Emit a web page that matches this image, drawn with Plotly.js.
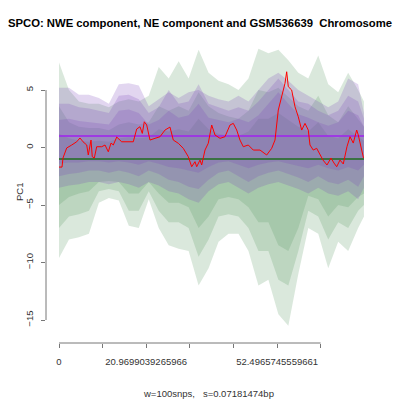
<!DOCTYPE html>
<html>
<head>
<meta charset="utf-8">
<script src="https://cdn.plot.ly/plotly-3.0.1.min.js"></script>
<style>html,body{margin:0;padding:0;background:#fff;}#chart{width:400px;height:399px;}</style>
</head>
<body>
<div id="chart"></div>
<script>
// ---- data ----
const titleText = "SPCO: NWE component, NE component and GSM536639  Chromosome";
const xAxisTitle = "w=100snps,   s=0.07181474bp";
const yAxisTitle = "PC1";

const xTickVals = [0, 10.49, 20.97, 31.48, 41.98, 52.50, 62.97];
const xTickText = ["0", "", "20.9699039265966", "", "", "52.4965745559661", ""];
const yTickVals = [-15, -10, -5, 0, 5];

// band sample positions
const bandX = [0, 2.4, 4.8, 7.2, 9.6, 12.0, 14.4, 16.8, 19.2, 21.6, 24.0, 26.4, 28.8, 31.2, 33.6, 36.0,
               38.4, 40.8, 43.2, 45.6, 48.0, 50.4, 52.8, 55.2, 57.6, 60.0, 62.4, 64.8, 67.2, 69.6, 72.0, 73.4];

// green component bands (outer / mid / inner)
const greenOuterHi = [7.4, 5.0, 4.0, 3.8, 3.8, 3.5, 4.0, 4.2, 4.0, 4.5, 7.0, 6.0, 7.5, 6.0, 8.5, 6.5, 5.8, 5.5, 5.0, 6.0, 8.6, 8.2, 8.5, 7.6, 6.5, 6.0, 8.0, 5.5, 4.8, 6.5, 5.0, 4.0];
const greenMidHi   = [3.6, 2.2, 1.8, 1.7, 1.7, 1.5, 2.0, 2.2, 2.0, 2.2, 3.6, 3.2, 3.6, 3.2, 4.8, 3.6, 3.0, 2.7, 2.5, 3.2, 5.0, 4.8, 5.2, 4.4, 3.6, 3.2, 4.5, 2.8, 2.2, 3.6, 2.5, 1.8];
const greenInnerHi = [1.2, 0.8, 0.6, 0.5, 0.6, 0.5, 0.8, 0.9, 0.8, 0.9, 1.6, 1.4, 1.6, 1.4, 2.5, 1.6, 1.2, 1.0, 1.0, 1.4, 2.5, 2.5, 3.0, 2.4, 1.8, 1.4, 2.2, 1.0, 0.8, 1.6, 1.0, 0.6];
const greenInnerLo = [-5.0, -4.3, -4.0, -3.8, -3.0, -2.9, -3.0, -4.0, -4.0, -3.0, -4.0, -4.8, -4.8, -5.2, -7.0, -6.0, -4.5, -4.3, -4.5, -5.2, -6.5, -6.5, -8.5, -9.0, -7.0, -4.2, -4.5, -6.0, -5.0, -5.2, -4.3, -4.0];
const greenMidLo   = [-7.0, -6.0, -5.8, -5.5, -3.8, -3.6, -3.8, -5.5, -5.5, -3.8, -5.5, -6.5, -6.5, -7.0, -9.5, -8.0, -6.0, -5.8, -6.0, -7.0, -9.0, -9.0, -11.5, -12.0, -9.0, -5.5, -6.0, -8.0, -6.5, -7.0, -5.5, -5.0];
const greenOuterLo = [-9.6, -8.0, -7.8, -7.5, -4.8, -4.4, -4.6, -6.8, -7.0, -4.5, -7.0, -8.5, -8.8, -9.0, -12.0, -10.5, -8.2, -7.5, -7.5, -9.0, -12.0, -11.5, -14.5, -15.5, -11.0, -7.0, -7.5, -10.5, -8.2, -9.0, -7.0, -6.0];

// purple component bands (outer / mid / inner)
const purpleOuterHi = [5.2, 5.2, 4.6, 4.6, 4.3, 3.8, 5.5, 5.6, 5.4, 3.6, 4.2, 4.8, 4.3, 4.8, 5.0, 4.5, 4.2, 4.0, 4.5, 4.0, 5.0, 6.0, 6.5, 5.8, 5.0, 4.5, 4.0, 3.5, 4.0, 6.0, 5.5, 3.0];
const purpleMidHi   = [3.8, 3.8, 3.5, 3.4, 3.2, 3.0, 4.5, 4.6, 4.2, 3.0, 3.5, 5.0, 3.8, 4.0, 5.5, 3.8, 3.5, 3.2, 3.5, 3.2, 4.0, 5.0, 6.0, 5.0, 4.0, 3.8, 3.2, 2.8, 3.2, 4.5, 4.0, 2.5];
const purpleInnerHi = [2.4, 2.5, 2.3, 2.2, 2.1, 2.0, 3.2, 3.3, 3.0, 2.0, 2.4, 3.2, 2.6, 2.8, 3.8, 2.6, 2.4, 2.2, 2.5, 2.2, 2.8, 3.8, 4.8, 3.8, 2.9, 2.6, 2.2, 1.9, 2.2, 3.2, 2.8, 1.8];
const purpleInnerLo = [-1.4, -1.3, -1.3, -1.2, -1.2, -1.3, -1.2, -1.3, -1.5, -1.2, -1.4, -1.7, -1.8, -2.0, -2.2, -1.7, -1.3, -1.2, -1.5, -1.8, -1.5, -1.3, -1.2, -1.4, -1.6, -1.8, -1.5, -1.8, -2.0, -1.7, -2.0, -1.5];
const purpleMidLo   = [-2.5, -2.3, -2.2, -2.0, -2.0, -2.2, -2.0, -2.2, -2.5, -2.0, -2.3, -2.8, -3.0, -3.4, -3.6, -2.8, -2.2, -2.0, -2.5, -3.0, -2.5, -2.2, -2.0, -2.3, -2.6, -3.0, -2.5, -3.0, -3.2, -2.8, -3.4, -2.5];
const purpleOuterLo = [-3.5, -3.3, -3.2, -3.0, -3.0, -3.2, -3.0, -3.2, -3.5, -3.0, -3.3, -3.8, -4.0, -4.5, -4.8, -3.8, -3.2, -3.0, -3.5, -4.0, -3.5, -3.2, -3.0, -3.3, -3.6, -4.0, -3.5, -4.0, -4.2, -3.8, -4.5, -3.5];

// reference lines
const purpleLineValue = 1;
const greenLineValue = -1;

// sample PC1 (red line)
const sampleX = [0, 0.72, 0.96, 1.85, 3.06, 4.26, 5.05, 5.78, 6.67, 7.05, 7.70, 8.01, 8.50, 9.07, 10.28, 11.07, 11.87, 12.52, 13.07, 13.89,
  15.09, 17.88, 18.70, 19.49, 20.05, 20.53, 21.11, 21.90, 23.10, 24.31, 25.51, 26.71, 27.51, 28.71, 29.92, 31.12, 31.94, 32.73, 33.14, 33.94,
  34.34, 35.14, 35.93, 36.75, 37.55, 38.75, 39.95, 41.16, 41.95, 42.77, 43.56, 44.36, 45.56, 46.76, 48.38, 49.99, 51.19, 51.99, 52.78, 53.60,
  54.39, 54.80, 55.19, 56.00, 56.80, 57.59, 58.41, 59.21, 60.00, 60.41, 61.20, 62.02, 62.82, 63.54, 64.50, 65.46, 66.19, 66.84, 67.63, 68.42,
  69.31, 70.04, 70.83, 71.65, 72.03, 72.85, 73.29];
const sampleY = [-1.70, -1.70, -0.91, -0.04, 0.22, 0.50, 0.83, 0.50, 0.22, -0.65, 0.65, -0.80, -0.91, 0.07, 0.07, 0.22, -0.37, 0.39, 0.22, 0.91,
  0.50, 0.50, 1.61, 1.81, 1.23, 2.24, 1.96, 0.65, 0.80, 0.94, 1.52, 1.78, 0.65, 0.37, -0.07, -0.80, -1.67, -1.23, -1.67, -1.09,
  -1.52, -0.22, 0.37, 1.96, 1.09, 0.80, 0.94, 1.96, 2.10, 1.52, 0.65, 0.07, 0.22, -0.22, -0.22, -0.65, -0.07, 0.65, 3.26, 4.42,
  5.58, 6.59, 5.29, 5.00, 3.55, 2.68, 1.52, 2.10, 1.52, 0.22, -0.22, -0.07, -0.65, -1.09, -1.52, -0.91, -1.35, -1.67, -1.09, -1.43,
  0.07, 0.94, 0.39, 1.52, 1.09, -0.37, -0.91];

// ---- build traces ----
function band(hi, lo, color) {
  return {
    type: 'scatter', mode: 'lines',
    x: bandX.concat(bandX.slice().reverse()),
    y: hi.concat(lo.slice().reverse()),
    fill: 'toself', fillcolor: color,
    line: {width: 0, color: color},
    hoverinfo: 'skip', showlegend: false
  };
}
const G = 'rgba(85,150,95,0.22)';
const P = 'rgba(125,70,185,0.22)';
const traces = [
  band(greenOuterHi, greenOuterLo, G),
  band(greenMidHi, greenMidLo, G),
  band(greenInnerHi, greenInnerLo, G),
  band(purpleOuterHi, purpleOuterLo, P),
  band(purpleMidHi, purpleMidLo, P),
  band(purpleInnerHi, purpleInnerLo, P),
  {type: 'scatter', mode: 'lines', x: [bandX[0], bandX[bandX.length - 1]], y: [purpleLineValue, purpleLineValue],
   line: {color: '#A020F0', width: 1.6}, showlegend: false},
  {type: 'scatter', mode: 'lines', x: [bandX[0], bandX[bandX.length - 1]], y: [greenLineValue, greenLineValue],
   line: {color: '#1E6B1E', width: 1.4}, showlegend: false},
  {type: 'scatter', mode: 'lines', x: sampleX, y: sampleY,
   line: {color: '#FF0000', width: 1}, showlegend: false}
];

const tickFont = {family: 'Liberation Sans, Arial, sans-serif', size: 9.5, color: '#333'};
const layout = {
  width: 400, height: 399,
  margin: {l: 46, r: 22, t: 36, b: 56},
  paper_bgcolor: '#fff', plot_bgcolor: '#fff',
  showlegend: false,
  title: {text: '<b>' + titleText + '</b>', x: 0.5, xref: 'container', xanchor: 'center',
          y: 1 - 23 / 399, yref: 'container', yanchor: 'middle',
          font: {family: 'Liberation Sans, Arial, sans-serif', size: 11.3, color: '#000'}},
  xaxis: {range: [-3.13, 76.78], showgrid: false, zeroline: false, showline: false,
          tickmode: 'array', tickvals: xTickVals, ticktext: xTickText,
          ticks: 'outside', ticklen: 4, tickcolor: '#777', tickwidth: 1,
          tickfont: tickFont, ticklabelstandoff: 6, title: {text: ''}},
  yaxis: {range: [-17.0, 9.70], showgrid: false, zeroline: false, showline: false,
          tickmode: 'array', tickvals: yTickVals, tickangle: -90,
          ticks: 'outside', ticklen: 4, tickcolor: '#777', tickwidth: 1,
          tickfont: tickFont, ticklabelstandoff: 4, title: {text: ''}},
  shapes: [
    {type: 'line', xref: 'x', yref: 'paper', x0: xTickVals[0], x1: xTickVals[xTickVals.length - 1], y0: 0, y1: 0,
     line: {color: '#777', width: 1}},
    {type: 'line', xref: 'paper', yref: 'y', x0: 0, x1: 0, y0: yTickVals[0], y1: yTickVals[yTickVals.length - 1],
     line: {color: '#777', width: 1}}
  ],
  annotations: [
    {text: xAxisTitle, xref: 'paper', yref: 'paper', x: (208 - 46) / 332, y: -(393 - 343) / 307,
     xanchor: 'center', yanchor: 'middle', showarrow: false, font: tickFont},
    {text: yAxisTitle, xref: 'paper', yref: 'paper', x: -(46 - 19) / 332, y: (343 - 192) / 307,
     xanchor: 'center', yanchor: 'middle', showarrow: false, textangle: -90, font: tickFont}
  ]
};
Plotly.newPlot('chart', traces, layout, {displayModeBar: false, staticPlot: true});
</script>
</body>
</html>
